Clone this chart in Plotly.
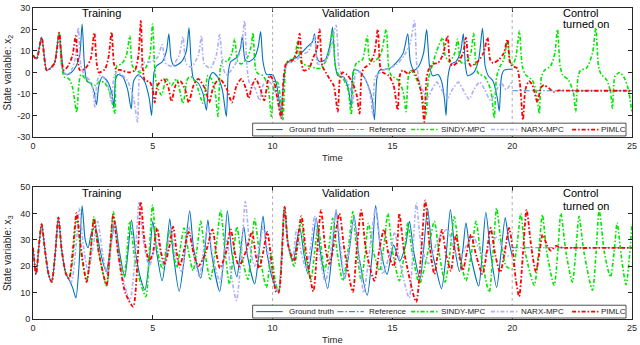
import plotly.graph_objects as go
from plotly.subplots import make_subplots

FONT = "Liberation Sans, Arial, sans-serif"
AX = "#262626"

# ---------------- x2 (top panel) ----------------
t_truth_x2 = [0, 0.15, 0.36, 0.57, 0.7, 0.9, 1.08, 1.2, 1.27, 1.4, 1.6, 1.8, 1.95, 2.05, 2.15, 2.25, 2.4,
              2.55, 2.65, 2.75, 2.9, 3.1, 3.3, 3.38, 3.45, 3.55, 3.75, 3.95, 4.1, 4.2, 4.4, 4.65, 4.85,
              4.95, 5.05, 5.15, 5.4, 5.57, 5.67, 5.77, 5.9, 6.2, 6.4, 6.51, 6.6, 6.7, 6.9, 7.1, 7.24,
              7.35, 7.5, 7.7, 7.9, 8.07, 8.15, 8.25, 8.5, 8.65, 8.74, 8.85, 9.0, 9.25, 9.4, 9.5, 9.6,
              9.75, 10.0, 10.15, 10.3, 10.36, 10.45, 10.58, 10.8, 11.0, 11.2, 11.45, 11.65, 11.75,
              11.85, 11.96, 12.2, 12.38, 12.5, 12.6, 12.72, 12.95, 13.15, 13.28, 13.38, 13.55, 13.75,
              13.95, 14.15, 14.25, 14.35, 14.46, 14.7, 14.9, 15.2, 15.45, 15.64, 15.75, 15.9, 16.1,
              16.3, 16.43, 16.55, 16.68, 16.9, 17.05, 17.17, 17.24, 17.32, 17.45, 17.65, 17.85, 17.96,
              18.05, 18.14, 18.4, 18.6, 18.76, 18.87, 19.0, 19.2, 19.38, 19.46, 19.55, 19.65, 19.85, 20.0]
truth_x2 = [8, 6.3, 16.5, 1, 1.7, 4.4, 18, 8, 0, -1, 0, 3, 8, 22.5, 3, -4, -5,
            -9, -15, -6, -2, -4, -10, -16.5, -3, -1, -2, -8, -17, -4, -1, -4, -12,
            -20, 0, 3, 5, 10, 18, 6, 3, 5, 10, 20.8, 5, -3, -5, -10, -17.5,
            -3, 0, -2, -8, -20.5, 0, 5, 7, 11, 17, 6, 5, 7, 12, 19, 5,
            -1, -1, -5, -15, -21, -5, 4, 6, 7, 9, 12, 14, 18,
            7, 5, 6, 12, 21, 5, -1.5, -2, -7, -16, 1, 1, -1,
            -5, -12, -22, -3, 1, 1.5, 2, 5, 9, 18, 5, 1, 3,
            9, 20, 3, -1.5, -1, -4, -12, -20, -2, 4, 5, 10, 18,
            3, -1.5, 0, 6, 20.5, 3, -1.5, -4, -12, -18, -2, 1, 1.5, 1.5]

t_sindy_x2 = [0, 0.15, 0.36, 0.57, 0.7, 0.9, 1.08, 1.2, 1.3, 1.5, 1.65, 1.82, 1.92, 2.0, 2.2, 2.4, 2.6,
              2.8, 3.0, 3.2, 3.42, 3.5, 3.7, 3.9, 4.04, 4.15, 4.3, 4.5, 4.7, 4.88, 4.99, 5.08, 5.15,
              5.36, 5.57, 5.78, 5.99, 6.26, 6.45, 6.6, 6.8, 7.1, 7.3, 7.45, 7.6, 7.72, 7.82, 7.93, 8.1,
              8.3, 8.42, 8.55, 8.7, 8.95, 9.1, 9.18, 9.3, 9.4, 9.6, 9.8, 9.95, 10.08, 10.2, 10.33,
              10.43, 10.55, 10.64, 10.9, 11.05, 11.2, 11.5, 11.8, 12.0, 12.3, 12.51, 12.62, 12.75,
              12.95, 13.15, 13.28, 13.38, 13.5, 13.75, 13.95, 14.05, 14.2, 14.5, 14.74, 14.85, 14.96,
              15.25, 15.45, 15.57, 15.68, 15.78, 16.0, 16.2, 16.4, 16.5, 16.6, 16.85, 17.1, 17.2,
              17.37, 17.6, 17.72, 17.85, 18.0, 18.25, 18.39, 18.5, 18.6, 18.85, 19.1, 19.25, 19.35,
              19.5, 19.65, 19.8, 19.92, 20.0, 20.15, 20.3, 20.42, 20.55, 20.84, 21.0, 21.13, 21.22,
              21.35, 21.6, 21.78, 21.89, 22.0, 22.1, 22.35, 22.55, 22.65, 22.75, 22.85, 23.1, 23.35,
              23.49, 23.6, 23.7, 23.95, 24.1, 24.18, 24.28, 24.38, 24.5, 24.7, 24.85, 25.0]
sindy_x2 = [8, 6.3, 16.2, 1, 1.7, 4.4, 19, 3, -2, -3, -7, -18.5, -5, -1, -3, -5, -6,
            -4, -5, -9, -19, 3, 4, 8, 17, 3, 1, 0, 2, 8, 22.5, 2, -5,
            -10.5, -3, -6, -3, -14.4, -3, -2, -5, -14.4, -1.4, -3, -9, -20.5, 2, 5.9, 5,
            9, 15.5, 5, 4, 7, 12, 18.5, 1, -0.6, -1.5, -6, -20.5, -5, -4.5, -12,
            -22, 3, 5.4, 7, 14.7, 4.5, 3, 2, 2, 7, 19.3, 3, -1,
            -3, -8, -19.7, 0, 4.4, 6, 17, 6, 5, 8, 20, 2, -1.5,
            -3.6, -9, -18.2, -1, 0.9, -3, -9, -19.7, -3, 0.9, 10, 16.2, 8,
            5, 9, 15.5, 5, 4, 8, 18.2, 2, -0.6, -2, -8, -21.2, -2,
            3, 6, 14.7, 5, 3.2, 7, 19.3, 3, -1, -3.6, -9, -19.1, -2,
            1, 3, 9, 20, 3, -1, -3.6, -9, -18.2, -2, 1, 2, 9,
            20.8, 3, -0.6, -3.6, -9, -16.7, -2, -0.6, 0, -3, -8, -19]

t_narx_x2 = [0, 0.15, 0.36, 0.57, 0.7, 0.9, 1.08, 1.2, 1.3, 1.45, 1.6, 1.75, 1.89, 2.0, 2.17, 2.38, 2.5,
             2.58, 2.68, 2.79, 3.0, 3.15, 3.28, 3.38, 3.5, 3.7, 3.95, 4.2, 4.36, 4.45, 4.6, 4.9, 5.2,
             5.39, 5.55, 5.8, 6.1, 6.26, 6.4, 6.6, 6.9, 7.03, 7.15, 7.4, 7.65, 7.79, 7.92, 8.05, 8.2,
             8.45, 8.7, 8.83, 8.93, 9.04, 9.25, 9.46, 9.6, 9.8, 10.0, 10.2, 10.36, 10.45, 10.64,
             10.9, 11.2, 11.5, 11.75, 11.88, 12.1, 12.4, 12.65, 12.78, 12.9, 13.1, 13.25, 13.35,
             13.45, 13.56, 13.75, 13.95, 14.1, 14.18, 14.28, 14.4, 14.6, 14.9, 15.2, 15.5, 15.75,
             15.92, 16.02, 16.13, 16.3, 16.45, 16.65, 16.85, 17.05, 17.3, 17.5, 17.75, 17.95, 18.2,
             18.4, 18.65, 18.85, 19.1, 19.3, 19.55, 19.75, 20.0]
narx_x2 = [8, 6.3, 16.2, 1, 1.7, 4.4, 18.5, 3, 0, -1, 1, 6, 20.8, 3, -1.6, -3.7, -8,
           -16, -4, -1.4, -3, -7, -14.3, -2, 0, -1, -4, -12, -23, 0, 4.4, 5, 7,
           13, 4, 3, 8, 16.5, 4, 2.5, 8, 17, 4, 2, 8, 17.7, 3, -1, 0,
           4, 12, 24, 3, -5, -7, -13, -6, -4, -6, -12, -21, -3, 4.4,
           5, 8, 10, 17, 4, 4, 10, 22, 2, -1, -4, -8, -14,
           -1, 0.5, -1, -5, -12, -19.7, -2, -1, 1, 2, 4, 8, 14,
           24, 3, -4.4, -9, -12, -8, -4.5, -8, -12, -8, -4.5, -8, -12.5,
           -8, -4.5, -8, -13, -9, -5, -8, -4]

t_pimlc_x2 = [0, 0.15, 0.36, 0.57, 0.7, 0.9, 1.1, 1.2, 1.3, 1.47, 1.65, 1.78, 1.88, 1.96, 2.17, 2.4,
              2.56, 2.66, 2.75, 3.0, 3.15, 3.28, 3.38, 3.46, 3.7, 4.0, 4.25, 4.4, 4.5, 4.58, 4.67,
              4.87, 5.0, 5.08, 5.2, 5.45, 5.65, 5.78, 5.95, 6.15, 6.35, 6.5, 6.7, 6.9, 7.2, 7.35,
              7.55, 7.8, 8.1, 8.3, 8.5, 8.7, 8.9, 9.0, 9.15, 9.3, 9.5, 9.65, 9.8, 9.88, 10.05, 10.2,
              10.36, 10.46, 10.57, 10.85, 11.0, 11.13, 11.22, 11.29, 11.5, 11.7, 11.85, 11.96, 12.07,
              12.17, 12.38, 12.55, 12.72, 12.82, 12.93, 13.1, 13.3, 13.5, 13.63, 13.73, 13.85, 14.05,
              14.25, 14.39, 14.5, 14.6, 14.85, 15.05, 15.22, 15.32, 15.43, 15.65, 15.85, 16.05, 16.2,
              16.33, 16.42, 16.5, 16.7, 16.9, 17.1, 17.3, 17.4, 17.5, 17.75, 17.95, 18.07, 18.18,
              18.28, 18.55, 18.8, 18.97, 19.08, 19.2, 19.45, 19.65, 19.8, 19.9, 20.0, 20.2, 20.32,
              20.45, 20.55, 20.7, 20.85, 21.05, 21.2, 21.33, 21.55, 21.75, 21.95, 22.1, 22.5, 25.0]
pimlc_x2 = [8, 6.3, 16.2, 1, 1.7, 4.4, 18.5, 5, 1, 3.2, 8, 17, 5, 1, 1.7, 6,
            18.5, 4, 0, 1.5, 7, 18.8, 4, 1.7, 1, 0, 1, 8, 24, 2, -3.7,
            -4.4, -8, -14, -6, -3, -7, -13.5, -6, -4, -8, -14, -6, -3, -8, -14,
            -6, -3, -8, -14, -6, -3, -8, -12, -6, -3, -8, -13, -4, -1.4, -4, -12,
            -21.3, -3, 4.4, 5.8, 9, 18.1, 4, 1, 1.5, 7, 11, 20, 3,
            1, -3, -6, -18.2, -2, 0, -1, -4, -10, -19.1, 0, 2.3, 4,
            9, 20, 2, 0, -1.5, -6, -17.4, -1, 1, -0.5, 1, -3, -9,
            -23, -3, 1, 4, 4.4, 8, 17, 5, 3.2, 5, 9, 16.2, 5,
            3, 5, 9, 16.2, 6, 4.4, 6, 9, 15.5, 5, 3, 2, -5,
            -22, -8, -4, -6, -13.8, -7, -5.9, -7.5, -9, -8.3, -8.4, -8.49, -8.49]

t_ref = [20, 25]
ref_x2 = [-8.49, -8.49]

# ---------------- x3 (bottom panel) ----------------
t_truth_x3 = [0, 0.13, 0.25, 0.36, 0.5, 0.65, 0.78, 0.92, 1.06, 1.2, 1.38, 1.5, 1.65, 1.79, 1.92, 2.05,
              2.18, 2.3, 2.45, 2.6, 2.8, 3.05, 3.25, 3.42, 3.6, 3.83, 3.97, 4.11, 4.3, 4.5, 4.67, 4.85,
              5.0, 5.15, 5.39, 5.55, 5.71, 5.85, 6.1, 6.3, 6.54, 6.7, 7.0, 7.15, 7.3, 7.45, 7.79, 7.95,
              8.11, 8.3, 8.51, 8.65, 8.8, 8.95, 9.25, 9.42, 9.6, 9.75, 10.0, 10.25, 10.5, 10.65, 10.85,
              11.13, 11.3, 11.47, 11.65, 11.82, 12.0, 12.3, 12.48, 12.65, 12.8, 13.0, 13.2, 13.4, 13.6,
              13.95, 14.15, 14.3, 14.5, 14.78, 15.05, 15.3, 15.55, 15.71, 15.9, 16.15, 16.3, 16.47,
              16.65, 16.8, 17.05, 17.25, 17.42, 17.6, 17.8, 17.95, 18.07, 18.25, 18.6, 18.75, 18.9,
              19.1, 19.35, 19.52, 19.71, 19.85, 20.0]
truth_x3 = [27, 17, 28, 36, 26, 17, 14, 24, 38.5, 26, 17, 15, 12, 8, 20, 43,
            30, 27, 33, 35, 26, 18, 28, 37, 26, 16, 26, 37.5, 24, 15, 11, 22,
            37, 26, 14.5, 24, 38, 25, 10.5, 22, 41, 27, 15.5, 24, 37.5, 25, 10.5, 22,
            41, 25, 16, 25, 35, 24, 13.3, 24, 39, 26, 15, 10, 42.5, 28, 22,
            34.6, 25, 17.2, 27, 38.3, 25, 11.6, 25, 41.4, 27, 15.3, 26, 39, 24,
            9, 24, 43, 27, 17, 28, 22, 28, 37, 25, 15, 26, 42,
            26, 20, 11.5, 25, 41.5, 27, 18, 27, 36.5, 25, 12.5, 25, 40.5,
            25, 12, 24, 38.5, 30, 24]

t_sindy_x3 = [0, 0.13, 0.25, 0.36, 0.5, 0.65, 0.78, 0.92, 1.06, 1.2, 1.38, 1.5, 1.65, 1.82, 2.0, 2.24,
              2.4, 2.55, 2.75, 3.07, 3.22, 3.35, 3.55, 3.8, 3.92, 4.04, 4.3, 4.71, 4.85, 4.99, 5.15,
              5.4, 5.55, 5.7, 5.85, 6.0, 6.15, 6.3, 6.5, 6.68, 6.85, 7.0, 7.18, 7.4, 7.65, 7.83, 8.0,
              8.2, 8.37, 8.51, 8.7, 8.97, 9.1, 9.25, 9.45, 9.74, 9.95, 10.1, 10.25, 10.5, 10.65, 10.9,
              11.19, 11.35, 11.6, 11.75, 11.9, 12.17, 12.35, 12.51, 12.7, 12.93, 13.15, 13.35, 13.5,
              13.7, 13.85, 14.0, 14.2, 14.46, 14.65, 14.81, 15.0, 15.29, 15.5, 15.64, 15.85, 16.13,
              16.45, 16.75, 16.95, 17.2, 17.4, 17.58, 17.8, 18.07, 18.3, 18.49, 18.7, 19.04, 19.2,
              19.35, 19.55, 19.75, 20.0, 20.2, 20.36, 20.55, 20.92, 21.1, 21.26, 21.45, 21.75, 21.9,
              22.03, 22.25, 22.51, 22.65, 22.79, 23.0, 23.35, 23.5, 23.63, 23.85, 24.1, 24.25, 24.38,
              24.55, 24.75, 25.0]
sindy_x3 = [27, 17, 28, 36, 26, 17, 14, 24, 38.5, 26, 17, 15.5, 22, 38.5, 25, 14.5,
            25, 38.8, 25, 12.6, 25, 40.7, 27, 15.8, 25, 37, 20, 8.5, 25, 43.2, 28,
            19, 26, 34, 26, 19.5, 27, 34.5, 25, 18.3, 27, 37, 25, 15, 28, 41.2, 27,
            13.3, 25, 35, 24, 15, 25, 38, 25, 12, 25, 15, 10, 42.5, 28, 20,
            37, 25, 15, 25, 35, 18.3, 27, 38.2, 25, 14.5, 26, 40.7, 27,
            14.5, 24, 36.3, 26, 18.3, 28, 40, 26, 14.5, 25, 36.3, 24, 13.3,
            24, 37, 25, 14, 25, 38.8, 25, 14.5, 25, 37, 24, 10.2, 25,
            42, 28, 20, 19, 28, 40, 25, 12.8, 25, 39.5, 25, 12.8, 25,
            40, 25, 14, 25, 38.9, 25, 10.9, 25, 41.4, 25, 15.9, 25, 36.4,
            24, 13, 36]

t_narx_x3 = [0, 0.13, 0.25, 0.36, 0.5, 0.65, 0.78, 0.92, 1.06, 1.2, 1.38, 1.5, 1.6, 1.8, 1.93, 2.1,
             2.3, 2.5, 2.7, 2.9, 3.1, 3.25, 3.4, 3.6, 4.04, 4.25, 4.43, 4.6, 4.85, 5.05, 5.2, 5.45,
             5.6, 5.75, 5.95, 6.2, 6.35, 6.5, 6.7, 6.95, 7.1, 7.3, 7.5, 7.8, 7.95, 8.1, 8.25, 8.49,
             8.7, 8.86, 9.05, 9.25, 9.45, 9.6, 9.8, 10.05, 10.25, 10.5, 10.65, 10.85, 11.0, 11.2,
             11.4, 11.6, 11.75, 11.95, 12.2, 12.45, 12.65, 12.85, 13.0, 13.2, 13.4, 13.6, 13.8,
             14.05, 14.3, 14.5, 14.6, 14.9, 15.1, 15.3, 15.7, 15.85, 16.0, 16.2, 16.5, 16.9, 17.3,
             17.55, 17.79, 18.1, 18.35, 18.6, 18.83, 19.1, 19.35, 19.6, 19.8, 20.0]
narx_x3 = [27, 17, 28, 36, 26, 17, 14, 24, 38.5, 26, 17, 15, 14, 28, 42, 28,
           18, 27, 37, 25, 17, 27, 36, 22, 7, 22, 44.5, 30, 20, 26, 30, 20,
           26, 34, 24, 18, 26, 35, 25, 16, 25, 35, 24, 14, 22, 30, 18, 7,
           25, 44.5, 28, 20, 27, 35, 25, 15, 10, 42.5, 28, 24, 34, 25,
           19, 28, 39, 25, 14, 27, 41, 26, 15, 27, 38, 24, 10,
           26, 42, 27, 17, 25, 33, 22, 8, 25, 44, 28, 21, 30, 34,
           27, 23, 28, 31.5, 27, 24, 28, 31, 27, 24, 24]

t_pimlc_x3 = [0, 0.13, 0.25, 0.36, 0.5, 0.65, 0.78, 0.92, 1.06, 1.2, 1.38, 1.51, 1.65, 1.82, 2.0, 2.24,
              2.4, 2.54, 2.75, 3.07, 3.2, 3.35, 3.55, 3.85, 4.18, 4.35, 4.5, 4.65, 4.85, 5.0, 5.18,
              5.35, 5.5, 5.68, 5.85, 6.0, 6.13, 6.3, 6.5, 6.7, 6.9, 7.2, 7.49, 7.65, 7.8, 8.05, 8.25,
              8.45, 8.6, 8.9, 9.14, 9.3, 9.44, 9.6, 9.78, 9.95, 10.15, 10.25, 10.5, 10.65, 10.9, 11.2,
              11.4, 11.7, 11.85, 12.02, 12.2, 12.37, 12.55, 12.79, 13.0, 13.35, 13.5, 13.7, 13.9,
              14.25, 14.45, 14.65, 14.85, 15.05, 15.2, 15.29, 15.5, 15.99, 16.2, 16.37, 16.55, 16.75,
              16.9, 17.07, 17.25, 17.44, 17.55, 17.65, 17.8, 17.94, 18.1, 18.28, 18.5, 18.76, 18.95,
              19.1, 19.3, 19.5, 19.7, 19.87, 20.0, 20.15, 20.29, 20.45, 20.6, 20.8, 20.99, 21.15,
              21.27, 21.45, 21.61, 21.82, 22.0, 22.2, 25.0]
pimlc_x3 = [27, 17, 28, 36, 26, 17, 14, 24, 38.5, 26, 17, 15.3, 25, 40.2, 27, 14,
            25, 38, 25, 12.8, 25, 39.4, 25, 10, 4.7, 20, 44.5, 30, 22, 25, 34.5,
            25, 21, 27, 35, 25, 20, 26, 33, 25, 20, 25, 34, 25, 19.3, 25, 34,
            24, 20, 26, 33, 24, 19.3, 25, 33, 22, 10.2, 10, 42.5, 28, 22, 39,
            25, 10.5, 25, 41.3, 27, 20.8, 28, 40, 26, 10.2, 25, 41.3, 26,
            14.5, 26, 34, 24, 20, 28, 40, 25, 6.5, 25, 45, 28, 17,
            25, 33.8, 24, 18.3, 25, 32, 24, 18.3, 25, 32, 24, 17, 26,
            34.5, 24, 17.7, 26, 34.5, 28, 15, 8.5, 25, 41.4, 27, 17.8, 26,
            32, 28, 25.9, 27.7, 27.2, 27, 27]

ref_x3 = [27, 27]

SERIES = [
    ("Ground truth", "#0072BD", "solid", 1.1),
    ("Reference", "#3B8ED4", "6px,2px,1.5px,2px", 1.1),
    ("SINDY-MPC", "#00E600", "4px,2px,1.5px,2px", 1.6),
    ("NARX-MPC", "#ADADFA", "4px,2px,1.5px,2px", 1.6),
    ("PIMLC", "#FF0000", "4px,2px,1.5px,2px", 1.8),
]

panels = [
    (1, [(t_truth_x2, truth_x2), (t_ref, ref_x2), (t_sindy_x2, sindy_x2),
         (t_narx_x2, narx_x2), (t_pimlc_x2, pimlc_x2)]),
    (2, [(t_truth_x3, truth_x3), (t_ref, ref_x3), (t_sindy_x3, sindy_x3),
         (t_narx_x3, narx_x3), (t_pimlc_x3, pimlc_x3)]),
]

fig = make_subplots(rows=2, cols=1, vertical_spacing=0.16)

for row, data in panels:
    for (name, color, dash, width), (tt, vv) in zip(SERIES, data):
        fig.add_trace(go.Scatter(
            x=tt, y=vv, mode="lines", name=name, showlegend=False,
            line=dict(color=color, dash=dash, width=width, shape="spline", smoothing=0.7),
        ), row=row, col=1)

axis_common = dict(
    showline=True, linecolor=AX, linewidth=0.8, mirror="allticks",
    ticks="inside", ticklen=4, tickcolor=AX, tickwidth=0.8,
    showgrid=False, zeroline=False,
    tickfont=dict(family=FONT, size=9, color=AX),
)
x_ticks = [0, 5, 10, 15, 20, 25]
for r in (1, 2):
    fig.update_xaxes(range=[0, 25], tickvals=x_ticks, ticktext=[str(v) for v in x_ticks],
                     row=r, col=1, **axis_common)

y2_ticks = [-30, -20, -10, 0, 10, 20, 30]
y3_ticks = [0, 10, 20, 30, 40, 50]
fig.update_yaxes(range=[-30, 30], tickvals=y2_ticks, ticktext=[str(v) for v in y2_ticks],
                 domain=[0.5854, 1.0], row=1, col=1, **axis_common)
fig.update_yaxes(range=[0, 50], tickvals=y3_ticks, ticktext=[str(v) for v in y3_ticks],
                 domain=[0.0, 0.424], row=2, col=1, **axis_common)

# dotted phase separators
for xr, yr in (("x", "y domain"), ("x2", "y2 domain")):
    for xv in (10, 20):
        fig.add_shape(type="line", xref=xr, yref=yr, x0=xv, x1=xv, y0=0, y1=1,
                      line=dict(color="#9A9A9A", width=0.8, dash="dot"))

txt = dict(family=FONT, size=11, color="#000000")
for xr, yr, y1, y2 in (("x", "y domain", 0.962, 0.878), ("x2", "y2 domain", 0.957, 0.856)):
    fig.add_annotation(text="Training", x=2.85, y=y1, xref=xr, yref=yr, yanchor="middle",
                       showarrow=False, font=txt)
    fig.add_annotation(text="Validation", x=13.06, y=y1, xref=xr, yref=yr, yanchor="middle",
                       showarrow=False, font=txt)
    fig.add_annotation(text="Control", x=22.04, y=y1, xref=xr, yref=yr, xanchor="left",
                       yanchor="middle", showarrow=False, font=txt)
    fig.add_annotation(text="turned on", x=22.04, y=y2, xref=xr, yref=yr, xanchor="left",
                       yanchor="middle", showarrow=False, font=txt)

lab = dict(family=FONT, size=9.5, color=AX)
fig.add_annotation(text="Time", x=0.5, y=0.519, xref="paper", yref="paper", yanchor="middle",
                   showarrow=False, font=lab)
fig.add_annotation(text="Time", x=0.5, y=-0.0665, xref="paper", yref="paper", yanchor="middle",
                   showarrow=False, font=lab)
ylab = dict(family=FONT, size=10, color=AX)
fig.add_annotation(text="State variable: x<sub>2</sub>", x=-0.0417, y=0.7927, xref="paper",
                   yref="paper", xanchor="center", yanchor="middle", textangle=-90,
                   showarrow=False, font=ylab)
fig.add_annotation(text="State variable: x<sub>3</sub>", x=-0.0417, y=0.212, xref="paper",
                   yref="paper", xanchor="center", yanchor="middle", textangle=-90,
                   showarrow=False, font=ylab)

# MATLAB-style boxed legends, one per panel (paper coordinates)
legend_box_x = (0.3667, 0.99)
sample_x0 = [0.3728, 0.5083, 0.6312, 0.7645, 0.9000]
sample_len = 0.044
label_x = [0.4233, 0.5583, 0.6783, 0.8117, 0.9450]
for y0, y1 in ((0.5886, 0.6297), (0.0032, 0.0443)):
    yc = (y0 + y1) / 2
    fig.add_shape(type="rect", xref="paper", yref="paper", x0=legend_box_x[0], x1=legend_box_x[1],
                  y0=y0, y1=y1, fillcolor="white", line=dict(color=AX, width=0.8), layer="above")
    for (name, color, dash, width), sx, lx in zip(SERIES, sample_x0, label_x):
        fig.add_shape(type="line", xref="paper", yref="paper", x0=sx, x1=sx + sample_len,
                      y0=yc, y1=yc, line=dict(color=color, dash=dash, width=width), layer="above")
        fig.add_annotation(text=name, x=lx, y=yc, xref="paper", yref="paper", xanchor="left",
                           yanchor="middle", showarrow=False,
                           font=dict(family=FONT, size=8, color=AX))

fig.update_layout(
    width=640, height=345,
    margin=dict(l=33, r=7, t=3, b=26),
    paper_bgcolor="white", plot_bgcolor="white",
    showlegend=False,
)

# the page's default 8px body margin would push the figure off the 640x345 window
fig.write_html("out.html", config={"displayModeBar": False},
               post_script="document.body.style.margin='0';")
